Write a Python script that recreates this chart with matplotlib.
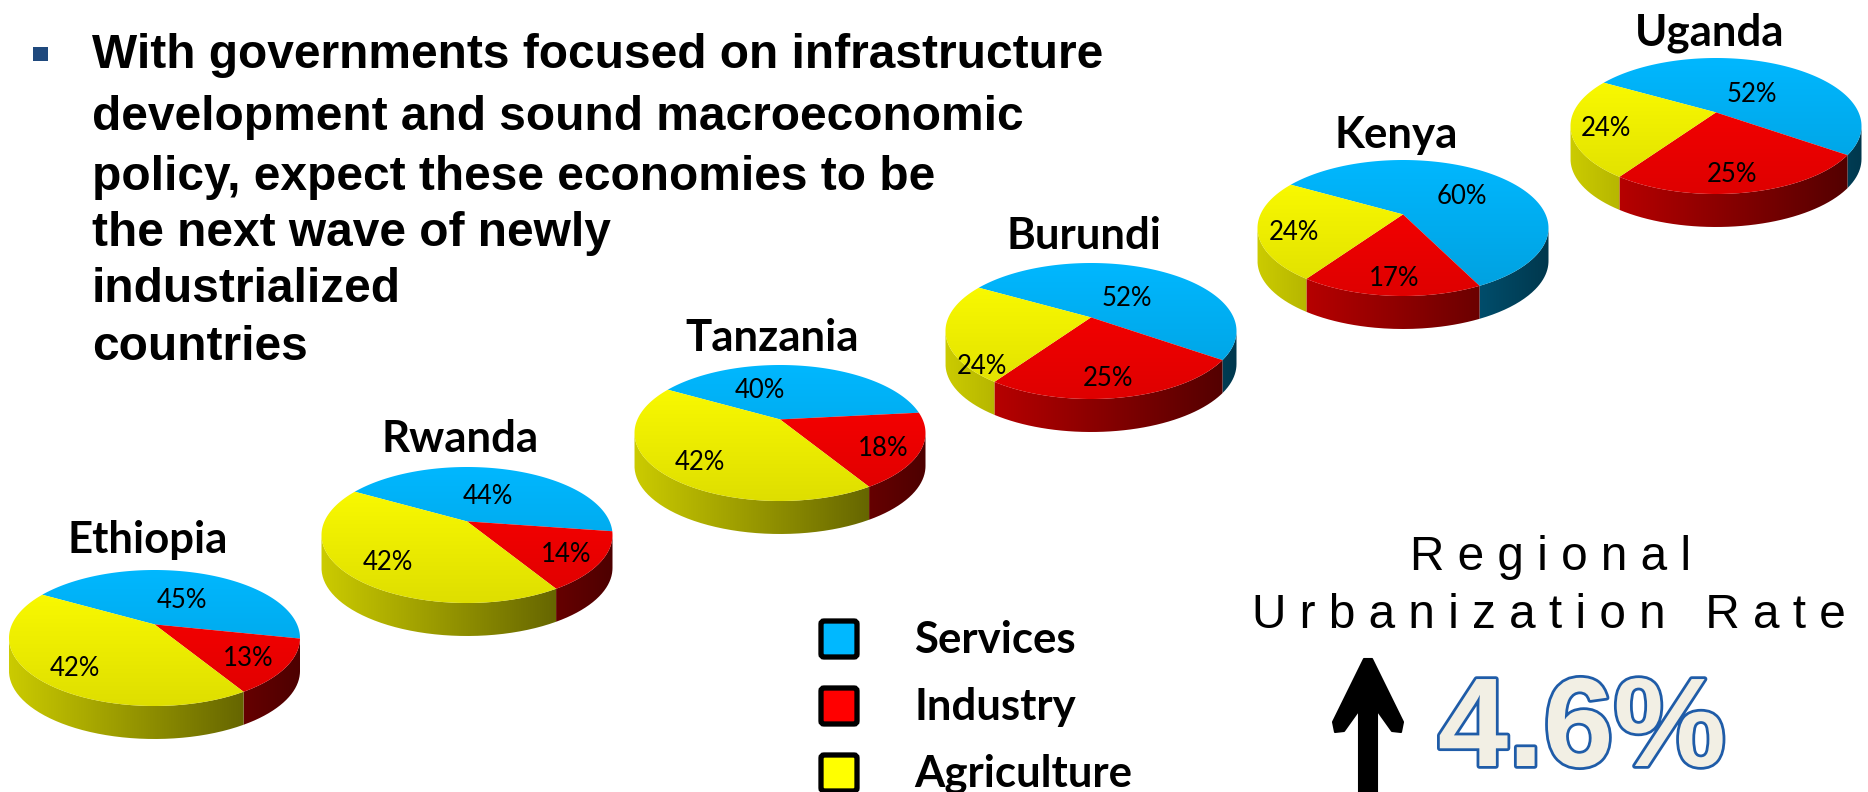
#plot.py
import numpy as np
import matplotlib
matplotlib.use("Agg")
import matplotlib.pyplot as plt
import matplotlib.patheffects as pe
from matplotlib.path import Path
from matplotlib.patches import PathPatch, Rectangle, FancyBboxPatch, Polygon

countries = ["Ethiopia", "Rwanda", "Tanzania", "Burundi", "Kenya", "Uganda"]
services = [45, 44, 40, 52, 60, 52]
industry = [13, 14, 18, 25, 17, 25]
agriculture = [42, 42, 42, 24, 24, 24]
sectors = ["Services", "Industry", "Agriculture"]
sector_colors = [(0, 0.72, 1.0), (1.0, 0, 0), (1.0, 1.0, 0)]
bullet_lines = ["With governments focused on infrastructure",
                "development and sound macroeconomic",
                "policy, expect these economies to be",
                "the next wave of newly",
                "industrialized",
                "countries"]

# layout, in pixels of the 1868x792 picture
centres = [(154.5, 638), (467, 535), (780, 433), (1091, 331), (1403, 228), (1716, 126)]
title_pos = [(148, 540), (460, 439), (772, 338), (1084, 236), (1396, 135), (1710, 33)]
label_pos = [[(182, 601), (248, 658), (75, 668)],
             [(488, 496), (566, 555), (388, 563)],
             [(760, 391), (883, 449), (700, 462)],
             [(1127, 298), (1108, 378), (982, 366)],
             [(1462, 196), (1394, 278), (1294, 233)],
             [(1752, 94), (1732, 175), (1606, 129)]]
line_y = [56, 117, 177, 234, 290, 347]
rx, ry, depth = 145.5, 68, 33
k = 0.2             # perspective of the pie top
start = -60.0       # first slice starts here, degrees clockwise from the top

def project(theta, r, cx, cy):
    x = r*np.sin(theta)
    y = r*np.cos(theta)
    px = np.sqrt(1-k**2)*x/(1+k*y)
    py = (y+k)/(1+k*y)
    return cx+rx*px, cy-ry*py

def gradient(ax, path, color, extent, f0, f1, vertical):
    n = 256
    f = np.linspace(f0, f1, n)
    img = np.outer(f, color).reshape(n, 1, 3) if vertical else np.outer(f, color).reshape(1, n, 3)
    im = ax.imshow(img, extent=extent, aspect='auto', origin='upper', interpolation='bilinear', zorder=2)
    im.set_clip_path(PathPatch(path, transform=ax.transData))

fig = plt.figure(figsize=(18.68, 7.92), dpi=100)
ax = fig.add_axes([0, 0, 1, 1])

vis0 = np.pi-np.arccos(k)    # where the front wall starts and ends
vis1 = np.pi+np.arccos(k)

for i, name in enumerate(countries):
    cx, cy = centres[i]
    vals = np.array([services[i], industry[i], agriculture[i]], dtype=float)
    edges = np.radians(start)+np.concatenate([[0], np.cumsum(vals)/vals.sum()])*2*np.pi
    left, right = cx-rx, cx+rx
    for j in range(3):
        a, b = edges[j], edges[j+1]
        # side wall
        a2, b2 = max(a, vis0), min(b, vis1)
        if b2 > a2:
            t = np.linspace(a2, b2, 80)
            xs, ys = project(t, 1, cx, cy)
            vx = np.concatenate([xs, xs[::-1]])
            vy = np.concatenate([ys, ys[::-1]+depth])
            path = Path(np.column_stack([vx, vy]))
            gradient(ax, path, sector_colors[j], (left-2, right+2, cy+ry+depth+5, cy-5), 0.8, 0.3, False)
        # top of the slice
        t = np.linspace(a, b, 120)
        xs, ys = project(t, 1, cx, cy)
        ax0, ay0 = project(0.0, 0.0, cx, cy)
        vx = np.concatenate([[ax0], xs, [ax0]])
        vy = np.concatenate([[ay0], ys, [ay0]])
        path = Path(np.column_stack([vx, vy]))
        gradient(ax, path, sector_colors[j], (left-2, right+2, cy+ry+2, cy-ry-2), 1.0, 0.87, True)
        lx, ly = label_pos[i][j]
        ax.text(lx, ly, "{:.0f}%".format(vals[j]), ha='center', va='center', fontsize=18.5,
                family='Lato', color='black', zorder=5)
    ax.text(title_pos[i][0], title_pos[i][1], name, ha='center', va='center', fontsize=31.5,
            family='Lato', weight='bold', color='black', zorder=5)

# bullet text
ax.add_patch(Rectangle((33, 47), 15, 14, facecolor='#1F497D', edgecolor='none', zorder=3))
for s, y in zip(bullet_lines, line_y):
    ax.text(92, y, s, ha='left', va='center', fontsize=34.5, family='Liberation Sans',
            weight='bold', color='black', zorder=5)

# legend
for s, c, y in zip(sectors, sector_colors, [639, 706, 773]):
    ax.add_patch(FancyBboxPatch((821, y-18), 36, 36, boxstyle="round,pad=0,rounding_size=3",
                                facecolor=c, edgecolor='black', linewidth=3.8, zorder=3))
    ax.text(914, y+1, s, ha='left', va='center', fontsize=31.5, family='Lato', weight='bold',
            color='black', zorder=5)

# urbanization rate
ax.text(1551, 557, " ".join("Regional"), ha='center', va='center', fontsize=34.4,
        family='Liberation Sans', color='black', zorder=5)
ax.text(1549, 616, " ".join("Urbanization") + "   " + " ".join("Rate"), ha='center', va='center',
        fontsize=34.4, family='Liberation Sans', color='black', zorder=5)
ax.add_patch(Polygon([(1372, 659), (1403, 722), (1401, 732), (1392, 731), (1377, 710),
                      (1377, 792), (1359, 792), (1359, 710), (1344, 731), (1335, 732), (1333, 722), (1364, 659)],
                     closed=True, facecolor='black', edgecolor='black', linewidth=1.5, joinstyle='round', zorder=3))
ax.text(1582, 733, "4.6%", ha='center', va='center', fontsize=91, family='Liberation Sans',
        weight='bold', color='#F2EFE4', zorder=5,
        path_effects=[pe.withStroke(linewidth=4, foreground='#1F5CA8')])

ax.set_xlim(0, 1868)
ax.set_ylim(792, 0)
ax.axis('off')
fig.savefig("out.png", dpi=100, facecolor='white')
